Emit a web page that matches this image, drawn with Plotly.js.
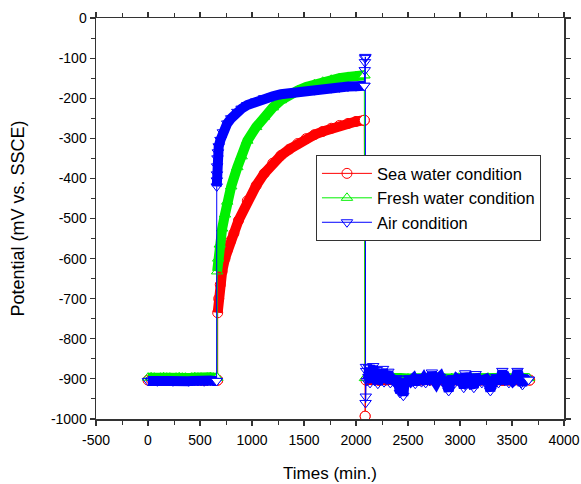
<!DOCTYPE html>
<html>
<head>
<meta charset="utf-8">
<script src="https://cdn.plot.ly/plotly-3.0.1.min.js"></script>
<style>html,body{margin:0;padding:0;background:#fff;}#chart{width:581px;height:484px;}</style>
</head>
<body>
<div id="chart"></div>
<script>
// ---------- Sea water condition ----------
var seaT1 = [0,30,60,90,120,150,180,210,240,270,300,330,360,390,420,450,480,510,540,570,600,630,660,670];
var seaP1 = [-903,-902,-903,-904,-903,-902,-903,-903,-904,-903,-902,-903,-903,-904,-903,-902,-903,-903,-904,-903,-902,-903,-903,-903];
var seaT2 = [670,680,695,713,740,762,794,826,870,955,1040,1117,1200,1278,1360,1440,1520,1601,1680,1762,1840,1923,2000,2080];
var seaP2 = [-735,-700,-665,-632,-600,-579,-556,-537,-505,-456,-418,-388,-362,-343,-327,-313,-301,-291,-283,-275,-268,-263,-258,-255];
var seaTj = [2088];
var seaPj = [-993];
var seaT3 = [2095,2150,2220,2290,2360,2430,2500,2570,2640,2710,2780,2850,2920,2990,3060,3130,3200,3270,3340,3410,3480,3550,3620,3670];
var seaP3 = [-903,-902,-904,-903,-902,-903,-904,-902,-903,-903,-902,-904,-903,-902,-903,-904,-903,-902,-903,-904,-903,-902,-903,-903];

// ---------- Fresh water condition ----------
var freshT1 = [0,30,60,90,120,150,180,210,240,270,300,330,360,390,420,450,480,510,540,570,600,630,660,665];
var freshP1 = [-897,-896,-897,-898,-897,-896,-897,-897,-898,-897,-896,-897,-897,-898,-897,-896,-897,-897,-898,-897,-896,-897,-897,-897];
var freshT2 = [665,675,690,713,740,762,800,859,900,955,1040,1117,1200,1278,1360,1440,1520,1601,1680,1762,1840,1923,2000,2080];
var freshP2 = [-632,-600,-565,-525,-490,-458,-420,-372,-345,-306,-272,-246,-223,-205,-191,-181,-172,-165,-159,-154,-150,-147,-145,-143];
var freshT3 = [2086,2150,2220,2290,2360,2430,2500,2570,2640,2710,2780,2850,2920,2990,3060,3130,3200,3270,3340,3410,3480,3550,3620,3660];
var freshP3 = [-898,-897,-899,-898,-897,-898,-899,-897,-898,-898,-897,-899,-898,-897,-898,-899,-898,-897,-898,-899,-898,-897,-898,-898];

// ---------- Air condition ----------
var airT1 = [0,30,60,90,120,150,180,210,240,270,300,330,360,390,420,450,480,510,540,570,600,630,660];
var airP1 = [-905,-904,-905,-906,-905,-904,-905,-905,-906,-905,-904,-905,-905,-906,-905,-904,-905,-905,-906,-905,-904,-905,-905];
var airT2 = [661,662,663,665,668,672,680,697,720,762,800,859,900,955,1040,1117,1200,1278,1360,1440,1520,1601,1680,1762,1840,1923,2000,2080];
var airP2 = [-420,-405,-390,-370,-350,-335,-320,-304,-285,-263,-250,-234,-226,-217,-208,-200,-195,-190,-187,-184,-182,-180,-177,-175,-173,-171,-170,-169];
var airTj = [2084,2086,2088,2090,2092,2094,2096,2098];
var airPj = [-130,-110,-100,-97,-960,-944,-870,-880];
var airT3 = [2105,2120,2125,2135,2150,2165,2180,2195,2200,2210,2230,2250,2260,2270,2290,2311,2330,2350,2370,2390,2410,2423,2440,2455,2470,2490,2510,2530,2550,2570,2590,2610,2630,2650,2670,2690,2710,2730,2750,2770,2790,2810,2830,2850,2870,2891,2910,2930,2950,2970,2990,3010,3036,3050,3070,3090,3110,3133,3150,3170,3190,3210,3230,3250,3270,3292,3310,3330,3350,3370,3390,3407,3430,3450,3470,3490,3510,3530,3553,3570,3590,3600,3620,3640,3660];
var airP3 = [-905,-895,-872,-910,-880,-868,-905,-890,-878,-912,-900,-895,-875,-908,-900,-882,-910,-900,-905,-898,-915,-935,-905,-942,-900,-910,-898,-905,-900,-912,-902,-895,-908,-900,-910,-898,-905,-884,-902,-910,-900,-895,-907,-900,-912,-930,-905,-898,-910,-900,-904,-895,-922,-886,-905,-900,-910,-922,-888,-905,-898,-910,-902,-900,-908,-930,-900,-905,-895,-910,-900,-880,-905,-900,-910,-898,-905,-900,-880,-905,-910,-915,-900,-905,-902];

// ---------- Tick labels ----------
var xTickVals = [-500,0,500,1000,1500,2000,2500,3000,3500,4000];
var xTickText = ['-500','0','500','1000','1500','2000','2500','3000','3500','4000'];
var yTickVals = [0,-100,-200,-300,-400,-500,-600,-700,-800,-900,-1000];
var yTickText = ['0','-100','-200','-300','-400','-500','-600','-700','-800','-900','-1000'];

var seriesNames = ['Sea water condition','Fresh water condition','Air condition'];
var seriesColors = ['#ff0000','#00f000','#0000ff'];
var seriesSymbols = ['circle','triangle-up','triangle-down'];

var FONT = 'Liberation Sans, Arial, sans-serif';

function build(idx, T1,P1,T2,P2,Tj,Pj,T3,P3){
  var col = seriesColors[idx], sym = seriesSymbols[idx];
  var bandX = T1.concat([null], T2, [null], T3);
  var bandY = P1.concat([null], P2, [null], P3);
  var mainX = T1.concat(T2, Tj, T3);
  var mainY = P1.concat(P2, Pj, P3);
  var endX = [T1[T1.length-1], T2[T2.length-1], T3[T3.length-1]].concat(idx===0 ? Tj : []);
  var endY = [P1[P1.length-1], P2[P2.length-1], P3[P3.length-1]].concat(idx===0 ? Pj : []);
  return [
    {x:bandX, y:bandY, mode:'lines', line:{color:col, width:10}, showlegend:false, hoverinfo:'skip', connectgaps:false},
    {x:mainX, y:mainY, mode:'lines+markers', name:seriesNames[idx],
     line:{color:col, width:1},
     marker:{symbol:sym+'-open', size:10, color:col, line:{width:1, color:col}}},
    {x:endX, y:endY, mode:'markers', showlegend:false, hoverinfo:'skip',
     marker:{symbol:sym, size:10, color:'#ffffff', line:{width:1, color:col}}}
  ];
}

var data = [].concat(
  build(0, seaT1,seaP1,seaT2,seaP2,seaTj,seaPj,seaT3,seaP3),
  build(1, freshT1,freshP1,freshT2,freshP2,[],[],freshT3,freshP3),
  build(2, airT1,airP1,airT2,airP2,airTj,airPj,airT3,airP3)
);

var axisCommon = {
  showgrid:false, zeroline:false, showline:true, linecolor:'#333', linewidth:1.5,
  mirror:'ticks', ticks:'outside', ticklen:5, tickwidth:1.2, tickcolor:'#333',
  tickfont:{family:FONT, size:14, color:'#000'}, tickmode:'array'
};

var layout = {
  width:581, height:484,
  margin:{l:96, r:17, t:18, b:65},
  paper_bgcolor:'#fff', plot_bgcolor:'#fff',
  showlegend:true,
  legend:{x:0.47, y:0.658, xanchor:'left', yanchor:'top',
          bgcolor:'#fff', bordercolor:'#333', borderwidth:1,
          font:{family:FONT, size:16.5, color:'#000'}, itemwidth:50, tracegroupgap:0},
  xaxis:Object.assign({}, axisCommon, {
    range:[-500,4000], tickvals:xTickVals, ticktext:xTickText, ticklabelstandoff:3,
    minor:{dtick:250, ticks:'outside', ticklen:4, tickcolor:'#333', tickwidth:1},
    title:{text:'Times (min.)', font:{family:FONT, size:17, color:'#000'}, standoff:20}
  }),
  yaxis:Object.assign({}, axisCommon, {
    range:[-1000,0], tickvals:yTickVals, ticktext:yTickText,
    minor:{dtick:50, ticks:'outside', ticklen:4, tickcolor:'#333', tickwidth:1},
    title:{text:'Potential (mV vs. SSCE)', font:{family:FONT, size:18, color:'#000'}, standoff:21}
  })
};

Plotly.newPlot('chart', data, layout, {displayModeBar:false, staticPlot:true});
</script>
</body>
</html>
